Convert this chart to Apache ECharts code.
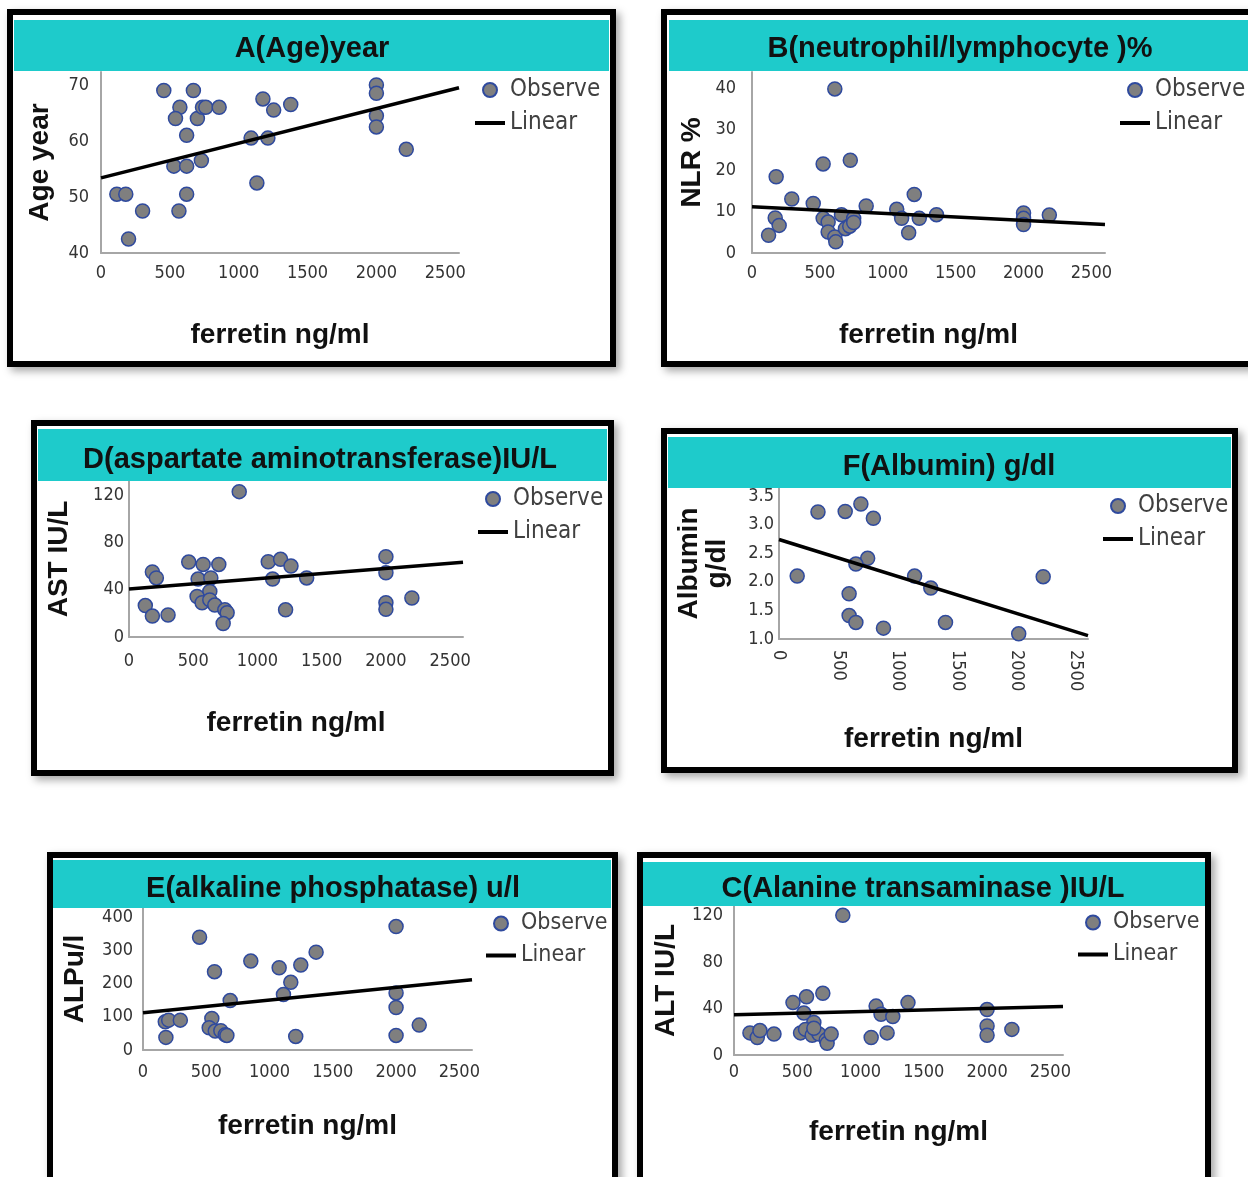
<!DOCTYPE html>
<html>
<head>
<meta charset="utf-8">
<script src="https://cdn.jsdelivr.net/npm/echarts@6/dist/echarts.min.js"></script>
<style>
  html, body { margin: 0; padding: 0; background: #fff; }
  #chart { width: 1248px; height: 1177px; }
</style>
</head>
<body>
<div id="chart"></div>
<script>
// ferritin (ng/ml) vs. each parameter
const ferritinTicks = [0, 500, 1000, 1500, 2000, 2500]

const ageObserved = [
  [456, 69], [671, 69], [573, 66], [541, 64], [700, 64], [737, 66], [761, 66], [858, 66],
  [622, 61], [529, 55.5], [622, 55.5], [729, 56.5], [622, 50.5], [566, 47.5], [115, 50.5],
  [180, 50.5], [302, 47.5], [200, 42.5], [1176, 67.5], [1254, 65.5], [1378, 66.5], [1090, 60.5],
  [1212, 60.5], [1132, 52.5], [2000, 70], [2000, 68.5], [2000, 64.5], [2000, 62.5], [2217, 58.5]
]
const ageFit = [[0, 53.4], [2600, 69.5]]
const ageTicks = [40, 50, 60, 70]

const nlrObserved = [
  [610, 39.8], [178, 18.5], [524, 21.6], [724, 22.5], [293, 13.1], [451, 12], [841, 11.4],
  [1195, 14.2], [1066, 10.6], [1102, 8.4], [1232, 8.4], [1359, 9.3], [1154, 4.9], [171, 8.5],
  [200, 6.7], [122, 4.3], [524, 8.4], [561, 7.5], [561, 5.1], [610, 3.9], [617, 2.7], [659, 9.3],
  [688, 5.9], [720, 6.5], [749, 8.4], [749, 7.4], [2000, 9.7], [2000, 8.4], [2000, 6.9], [2190, 9.2]
]
const nlrFit = [[0, 11.2], [2600, 6.9]]
const nlrTicks = [0, 10, 20, 30, 40]

const astObserved = [
  [858, 123], [465, 63.4], [577, 61.4], [699, 61.4], [1084, 63.7], [1180, 65.7], [1261, 60],
  [1118, 49], [1383, 50], [1219, 23], [2000, 68], [2000, 54.3], [2000, 29], [2000, 23.4],
  [2202, 33], [182, 55], [213, 50], [127, 26.6], [182, 17.7], [304, 18.6], [538, 49], [637, 50],
  [629, 38.6], [530, 34.3], [569, 29], [629, 31.4], [668, 27], [746, 23], [764, 20.6], [733, 11.4]
]
const astFit = [[0, 40.6], [2600, 63.2]]
const astTicks = [0, 40, 80, 120]

const albuminObserved = [
  [328, 3.22], [557, 3.23], [689, 3.36], [794, 3.11], [746, 2.41], [647, 2.31], [153, 2.1],
  [1141, 2.1], [1277, 1.89], [2223, 2.09], [590, 1.79], [590, 1.41], [647, 1.29], [879, 1.19],
  [1401, 1.29], [2017, 1.09]
]
const albuminFit = [[0, 2.74], [2600, 1.06]]
const albuminTicks = [1.0, 1.5, 2.0, 2.5, 3.0, 3.5]

const alpObserved = [
  [2000, 372], [447, 340], [1368, 295], [852, 268], [1076, 248], [1247, 256], [565, 236],
  [1168, 204], [1110, 167], [689, 149], [2000, 172], [2000, 128], [2000, 44], [2183, 75],
  [1207, 41], [176, 85], [203, 90], [295, 90], [181, 38], [544, 95], [523, 67], [571, 57],
  [615, 58], [650, 46], [663, 44]
]
const alpFit = [[0, 112], [2600, 212]]
const alpTicks = [0, 100, 200, 300, 400]

const altObserved = [
  [860, 120], [702, 53], [573, 50], [466, 45], [552, 36], [631, 28], [1123, 42], [1162, 35],
  [1255, 33], [1375, 45], [2000, 39], [2000, 25], [2000, 17], [2196, 22], [1210, 19], [1084, 15],
  [126, 19], [184, 15], [205, 21], [316, 18], [526, 19], [565, 22], [618, 17], [671, 18],
  [729, 13], [736, 10], [768, 18], [631, 23]
]
const altFit = [[0, 34.5], [2600, 41.7]]
const altTicks = [0, 40, 80, 120]

const NARROW = "'Liberation Sans Narrow', 'Arial Narrow', 'DejaVu Sans Condensed', sans-serif"
const BOLD = "'Liberation Sans', Arial, sans-serif"
const TEAL = '#1ecbcb'

// layout of the six framed panels
const panels = [
  {title: 'A(Age)year', titleX: 312, titleY: 49, yName: 'Age year', pts: ageObserved, fit: ageFit,
   ticks: ageTicks, yMin: 40, yMax: 72.3, yInt: 10, grid: [101, 72, 358, 181], yGap: 47, xGap: 68, yMargin: 12, xMargin: 11,
   frame: [10, 12, 603, 352], band: [14, 20, 595, 51], legend: [475, 76], legendSize: 24},
  {title: 'B(neutrophil/lymphocyte )%', titleX: 960, titleY: 49, yName: 'NLR %', pts: nlrObserved, fit: nlrFit,
   ticks: nlrTicks, yMin: 0, yMax: 43.9, yInt: 10, grid: [752, 72, 353, 181], yGap: 46, xGap: 68, yMargin: 16, xMargin: 11,
   frame: [664, 12, 600, 352], band: [669, 20, 590, 51], legend: [1120, 76], legendSize: 24},
  {title: 'D(aspartate aminotransferase)IU/L', titleX: 320, titleY: 460, yName: 'AST IU/L', pts: astObserved, fit: astFit,
   ticks: astTicks, yMin: 0, yMax: 132, yInt: 40, grid: [129, 481, 334, 156], yGap: 56, xGap: 72, yMargin: 5, xMargin: 15,
   frame: [34, 423, 577, 350], band: [38, 429, 569, 52], legend: [478, 485], legendSize: 24},
  {title: 'F(Albumin) g/dl', titleX: 949, titleY: 467, yName: 'Albumin\ng/dl', pts: albuminObserved, fit: albuminFit,
   ticks: albuminTicks, yMin: 1, yMax: 3.64, yInt: 0.5, grid: [779, 488, 309, 151], yGap: 48, xGap: 86, yMargin: 5, xMargin: 11,
   rotate: -90, fixed: 1,
   frame: [664, 431, 571, 339], band: [668, 437, 563, 51], legend: [1103, 492], legendSize: 24},
  {title: 'E(alkaline phosphatase) u/l', titleX: 333, titleY: 889, yName: 'ALPu/l', pts: alpObserved, fit: alpFit,
   ticks: alpTicks, yMin: 0, yMax: 428, yInt: 100, grid: [143, 908, 329, 142], yGap: 54, xGap: 62, yMargin: 10, xMargin: 13,
   frame: [50, 855, 565, 400], band: [53, 860, 558, 48], legend: [486, 910], legendSize: 23},
  {title: 'C(Alanine transaminase )IU/L', titleX: 923, titleY: 889, yName: 'ALT IU/L', pts: altObserved, fit: altFit,
   ticks: altTicks, yMin: 0, yMax: 128, yInt: 40, grid: [734, 906, 329, 149], yGap: 54, xGap: 63, yMargin: 11, xMargin: 8,
   frame: [640, 855, 568, 400], band: [643, 862, 562, 44], legend: [1078, 909], legendSize: 23}
]

const chart = echarts.init(document.getElementById('chart'))

const graphic = []
panels.forEach(p => {
  const [fx, fy, fw, fh] = p.frame
  // soft drop shadow, drawn by a filled rect under the frame
  graphic.push({
    type: 'rect', z: -6,
    shape: {x: fx - 3, y: fy - 3, width: fw + 6, height: fh + 6},
    style: {fill: '#fff', shadowBlur: 8, shadowOffsetX: 4, shadowOffsetY: 4, shadowColor: 'rgba(0,0,0,0.35)'}
  })
  graphic.push({
    type: 'rect', z: -5,
    shape: {x: fx, y: fy, width: fw, height: fh},
    style: {fill: '#fff', stroke: '#000', lineWidth: 6}
  })
  graphic.push({
    type: 'rect', z: 1,
    shape: {x: p.band[0], y: p.band[1], width: p.band[2], height: p.band[3]},
    style: {fill: TEAL}
  })
})

const option = {
  animation: false,
  backgroundColor: '#fff',
  graphic: graphic,
  title: panels.map(p => ({
    text: p.title, left: p.titleX, top: p.titleY - 15, textAlign: 'center', padding: 0,
    textStyle: {fontFamily: BOLD, fontWeight: 'bold', fontSize: 29, color: '#111'}
  })),
  legend: panels.map(p => ({
    data: [{name: 'Observe'}, {name: 'Linear', icon: 'path://M0,0H30V4H0Z'}],
    orient: 'vertical', left: p.legend[0], top: p.legend[1],
    itemWidth: 30, itemHeight: 14, itemGap: 5, padding: 0,
    textStyle: {fontFamily: NARROW, fontSize: p.legendSize, color: '#404040', lineHeight: p.legendSize + 4}
  })),
  grid: panels.map(p => ({left: p.grid[0], top: p.grid[1], width: p.grid[2], height: p.grid[3]})),
  xAxis: panels.map((p, i) => ({
    gridIndex: i, type: 'value', min: 0, max: 2600, interval: 500,
    name: 'ferretin ng/ml', nameLocation: 'middle', nameGap: p.xGap,
    nameTextStyle: {fontFamily: BOLD, fontWeight: 'bold', fontSize: 28, color: '#111'},
    axisLine: {lineStyle: {color: '#a6a6a6', width: 2}},
    axisTick: {show: false}, splitLine: {show: false},
    axisLabel: {
      fontFamily: NARROW, fontSize: 18, color: '#333', margin: p.xMargin, rotate: p.rotate || 0,
      formatter: v => ferritinTicks.includes(v) ? String(v) : ''
    }
  })),
  yAxis: panels.map((p, i) => ({
    gridIndex: i, type: 'value', min: p.yMin, max: p.yMax, interval: p.yInt,
    name: p.yName, nameLocation: 'middle', nameGap: p.yGap,
    nameTextStyle: {fontFamily: BOLD, fontWeight: 'bold', fontSize: 28, color: '#111', lineHeight: 28},
    axisLine: {show: true, lineStyle: {color: '#a6a6a6', width: 2}},
    axisTick: {show: false}, splitLine: {show: false},
    axisLabel: {
      fontFamily: NARROW, fontSize: 18, color: '#333', margin: p.yMargin,
      formatter: v => p.ticks.some(t => Math.abs(t - v) < 1e-9) ? (p.fixed ? v.toFixed(p.fixed) : String(v)) : ''
    }
  })),
  series: panels.flatMap((p, i) => [
    {
      name: 'Observe', type: 'scatter', xAxisIndex: i, yAxisIndex: i, data: p.pts,
      symbol: 'circle', symbolSize: 14,
      itemStyle: {color: '#7f7f7f', borderColor: '#2f4a9e', borderWidth: 1.5, opacity: 1}
    },
    {
      name: 'Linear', type: 'line', xAxisIndex: i, yAxisIndex: i, data: p.fit,
      symbol: 'none', z: 5,
      lineStyle: {color: '#000', width: 3.5}, itemStyle: {color: '#000'}
    }
  ])
}

chart.setOption(option)
</script>
</body>
</html>
